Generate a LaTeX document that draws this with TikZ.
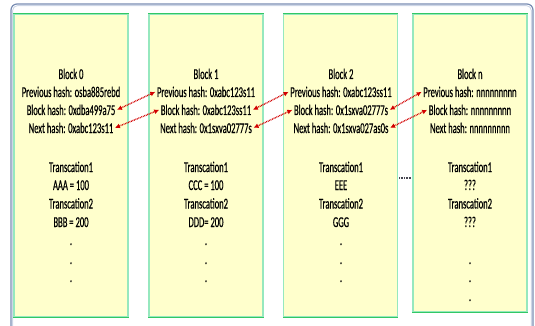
\documentclass[tikz,border=0pt]{standalone}
\usepackage{fontspec}
\newfontfamily\blockfont[FakeStretch=0.57,FakeBold=0.5]{Carlito}
\usetikzlibrary{arrows.meta,calc}

\definecolor{frameblue}{RGB}{120,140,178}
\definecolor{framelight}{RGB}{205,214,230}
\definecolor{blockfill}{RGB}{255,255,204}
\definecolor{blockedge}{RGB}{50,200,100}
\definecolor{blockside}{RGB}{150,232,190}
\definecolor{linkred}{RGB}{210,0,0}
\definecolor{gapgray}{RGB}{70,70,80}

\begin{document}
\begin{tikzpicture}[x=1pt,y=-1pt,
  blockbox/.style={draw=blockside, line width=1.2pt, fill=blockfill,
    minimum width=114pt, inner sep=0pt},
  edge/.style={draw=blockedge, line width=1.3pt},
  txt/.style={font=\blockfont\fontsize{15}{18}\selectfont, anchor=base, inner sep=1.5pt},
  link/.style={draw=linkred, line width=1.4pt, dash pattern=on 0.8pt off 0.8pt,
    {Latex[length=5pt,width=5pt]}-{Latex[length=5pt,width=5pt]}},
  gapdots/.style={draw=gapgray, line width=1.6pt, dash pattern=on 0.8pt off 0.8pt}
]
\useasboundingbox (0,0) rectangle (535,326);
\clip (0,0) rectangle (535,326);

% outer frame (its lower edge runs past the page)
\draw[frameblue, line width=1.2pt, rounded corners=6pt] (11,4) rectangle (533,336);
\draw[framelight, line width=0.9pt, rounded corners=5pt] (12.6,5.6) rectangle (531.4,334);

% blocks
\node[blockbox, minimum height=303pt] (b0) at (71,165.5) {};
\node[blockbox, minimum height=303pt] (b1) at (206,165.5) {};
\node[blockbox, minimum height=303pt] (b2) at (340.5,165.5) {};
\node[blockbox, minimum height=298pt] (bn) at (470,163) {};
\foreach \b in {b0,b1,b2,bn}{
  \draw[edge] (\b.north west) -- (\b.north east);
  \draw[edge] (\b.south west) -- (\b.south east);
}

% Block 0
\node[txt] (b0t) at (71,79) {Block 0};
\node[txt] (b0p) at (71,97) {Previous hash: osba885rebd};
\node[txt] (b0b) at (71,115) {Block hash: 0xdba499a75};
\node[txt] (b0n) at (71,133) {Next hash: 0xabc123s11};
\node[txt] (b0x1) at (71,172) {Transcation1};
\node[txt] (b0v1) at (71,190) {AAA = 100};
\node[txt] (b0x2) at (71,208.5) {Transcation2};
\node[txt] (b0v2) at (71,227) {BBB = 200};
\node[txt] (b0d1) at (71,245) {.};
\node[txt] (b0d2) at (71,264) {.};
\node[txt] (b0d3) at (71,282) {.};

% Block 1
\node[txt] (b1t) at (206,79) {Block 1};
\node[txt] (b1p) at (206,97) {Previous hash: 0xabc123s11};
\node[txt] (b1b) at (206,115) {Block hash: 0xabc123ss11};
\node[txt] (b1n) at (206,133) {Next hash: 0x1sxva02777s};
\node[txt] (b1x1) at (206,172) {Transcation1};
\node[txt] (b1v1) at (206,190) {CCC = 100};
\node[txt] (b1x2) at (206,208.5) {Transcation2};
\node[txt] (b1v2) at (206,227) {DDD= 200};
\node[txt] (b1d1) at (206,245) {.};
\node[txt] (b1d2) at (206,264) {.};
\node[txt] (b1d3) at (206,282) {.};

% Block 2
\node[txt] (b2t) at (341,79) {Block 2};
\node[txt] (b2p) at (341,97) {Previous hash: 0xabc123ss11};
\node[txt] (b2b) at (341,115) {Block hash: 0x1sxva02777s};
\node[txt] (b2n) at (341,133) {Next hash: 0x1sxva027as0s};
\node[txt] (b2x1) at (341,172) {Transcation1};
\node[txt] (b2v1) at (341,190) {EEE};
\node[txt] (b2x2) at (341,208.5) {Transcation2};
\node[txt] (b2v2) at (341,227) {GGG};
\node[txt] (b2d1) at (341,245) {.};
\node[txt] (b2d2) at (341,264) {.};
\node[txt] (b2d3) at (341,282) {.};

% Block n
\node[txt] (bnt) at (470,79) {Block n};
\node[txt] (bnp) at (470,97) {Previous hash: nnnnnnnnn};
\node[txt] (bnb) at (470,115) {Block hash: nnnnnnnnn};
\node[txt] (bnn) at (470,133) {Next hash: nnnnnnnnn};
\node[txt] (bnx1) at (470,172) {Transcation1};
\node[txt] (bnv1) at (470,190) {???};
\node[txt] (bnx2) at (470,208.5) {Transcation2};
\node[txt] (bnv2) at (470,227) {???};
\node[txt] (bnd1) at (470,264) {.};
\node[txt] (bnd2) at (470,282) {.};
\node[txt] (bnd3) at (470,301) {.};

% hash links between neighbouring blocks
\draw[link] (b0b.east) -- (b1p.west);
\draw[link] (b0n.east) -- (b1b.west);
\draw[link] (b1b.east) -- (b2p.west);
\draw[link] (b1n.east) -- (b2b.west);
\draw[link] (b2b.east) -- (bnp.west);
\draw[link] (b2n.east) -- (bnb.west);

% omitted blocks
\coordinate (gapL) at (b2.east |- 0,178);
\coordinate (gapR) at (bn.west |- 0,178);
\draw[gapdots] ($(gapL)+(1,0)$) -- ($(gapR)+(-2,0)$);
\end{tikzpicture}
\end{document}
